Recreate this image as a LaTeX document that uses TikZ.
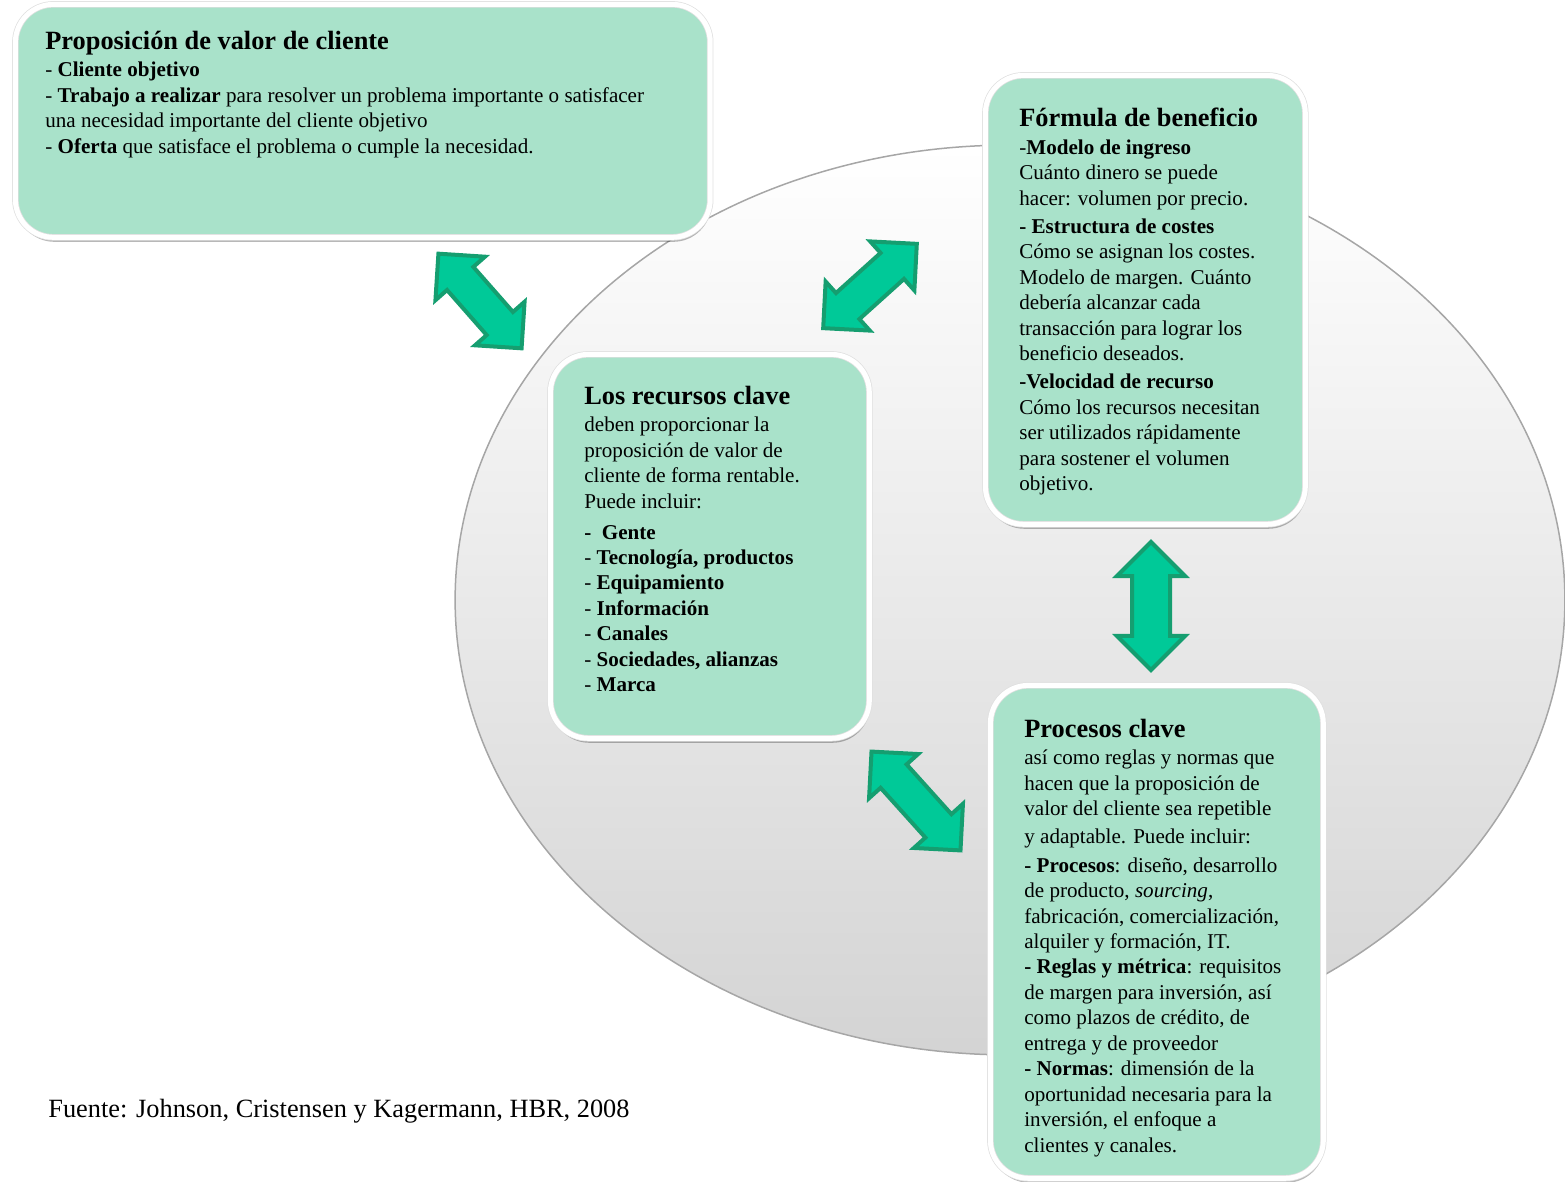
\documentclass[tikz,border=0pt]{standalone}
\usepackage{fontspec}
\setmainfont{Liberation Serif}
\usetikzlibrary{positioning, % For easy node-relative placements
                shapes.arrows, % For the double arrows
                shadows}

\definecolor{mint}{HTML}{A9E2CA}
\definecolor{arrowfill}{HTML}{00C998}
\definecolor{arrowline}{HTML}{159E70}

\begin{document}
\begin{tikzpicture}[x=0.02cm, y=-0.02cm,
  box/.style={draw=black!12, double=white, double distance=0.1cm, line width=0.015cm,
    fill=mint, rounded corners=0.76cm,
    drop shadow={shadow xshift=0.02cm, shadow yshift=-0.09cm, opacity=0.28, fill=black},
    inner sep=0, anchor=north west},
  body/.style={anchor=north west, inner sep=0, align=left,
    font=\fontsize{12}{14.5}\selectfont},
  link/.style={double arrow, draw=arrowline, fill=arrowfill, line width=0.08cm,
    inner xsep=0, inner ysep=0.31cm, minimum width=1.28cm, double arrow head extend=0.31cm}]
  \useasboundingbox (0,0) rectangle (1565,1182);
  \newcommand{\boxtitle}[1]{{\fontsize{15}{16}\selectfont\bfseries #1}}

  % the big plate behind everything
  \shade[top color=white, middle color=black!5, bottom color=black!17,
    draw=black!35, line width=0.03cm] (1010,600) ellipse [x radius=11.1cm, y radius=9.1cm];

  \node[box, minimum width=13.9cm, minimum height=4.66cm] (prop) at (15,4) {};
  \node[box, minimum width=6.38cm, minimum height=7.68cm] (recursos) at (550,354) {};
  \node[box, minimum width=6.4cm, minimum height=8.98cm] (formula) at (985,75) {};
  \node[box, minimum width=6.66cm, minimum height=9.86cm] (procesos) at (990,685) {};

  \node[body] (prop_t) at (45,31) {\boxtitle{Proposición de valor de cliente}\\[1pt]
    - \textbf{Cliente objetivo}\\
    - \textbf{Trabajo a realizar} para resolver un problema importante o satisfacer\\
    una necesidad importante del cliente objetivo\\
    - \textbf{Oferta} que satisface el problema o cumple la necesidad.};

  \node[body] (recursos_t) at (584,386) {\boxtitle{Los recursos clave}\\[1pt]
    deben proporcionar la\\
    proposición de valor de\\
    cliente de forma rentable.\\
    Puede incluir:\\[3pt]
    \textbf{-\ \ Gente}\\
    - \textbf{Tecnología, productos}\\
    - \textbf{Equipamiento}\\
    - \textbf{Información}\\
    - \textbf{Canales}\\
    - \textbf{Sociedades, alianzas}\\
    - \textbf{Marca}};

  \node[body] (formula_t) at (1019,108) {\boxtitle{Fórmula de beneficio}\\[1pt]
    -\textbf{Modelo de ingreso}\\
    Cuánto dinero se puede\\
    hacer: volumen por precio.\\[1.5pt]
    \textbf{- Estructura de costes}\\
    Cómo se asignan los costes.\\
    Modelo de margen. Cuánto\\
    debería alcanzar cada\\
    transacción para lograr los\\
    beneficio deseados.\\[1.5pt]
    \textbf{-Velocidad de recurso}\\
    Cómo los recursos necesitan\\
    ser utilizados rápidamente\\
    para sostener el volumen\\
    objetivo.};

  \node[body] (procesos_t) at (1024,719) {\boxtitle{Procesos clave}\\[1pt]
    así como reglas y normas que\\
    hacen que la proposición de\\
    valor del cliente sea repetible\\[1.5pt]
    y adaptable. Puede incluir:\\[1.5pt]
    \textbf{- Procesos}: diseño, desarrollo\\
    de producto, \textit{sourcing},\\
    fabricación, comercialización,\\
    alquiler y formación, IT.\\
    \textbf{- Reglas y métrica}: requisitos\\
    de margen para inversión, así\\
    como plazos de crédito, de\\
    entrega y de proveedor\\
    \textbf{- Normas}: dimensión de la\\
    oportunidad necesaria para la\\
    inversión, el enfoque a\\
    clientes y canales.};

  % arrows between the boxes
  \node[link, minimum height=2.52cm, rotate=-48.7] (prop_rec) at (480,301) {};
  \node[link, minimum height=2.52cm, rotate=42] (rec_form) at (870,286) {};
  \node[link, minimum height=2.56cm, rotate=90, inner ysep=0.34cm, minimum width=1.34cm,
    double arrow head extend=0.3cm] (form_proc) at (1151,606) {};
  \node[link, minimum height=2.66cm, rotate=-48] (rec_proc) at (916,801) {};

  \node[anchor=west, inner sep=0, font=\fontsize{15}{17}\selectfont] (fuente) at (48,1111)
    {Fuente: Johnson, Cristensen y Kagermann, HBR, 2008};
\end{tikzpicture}
\end{document}
